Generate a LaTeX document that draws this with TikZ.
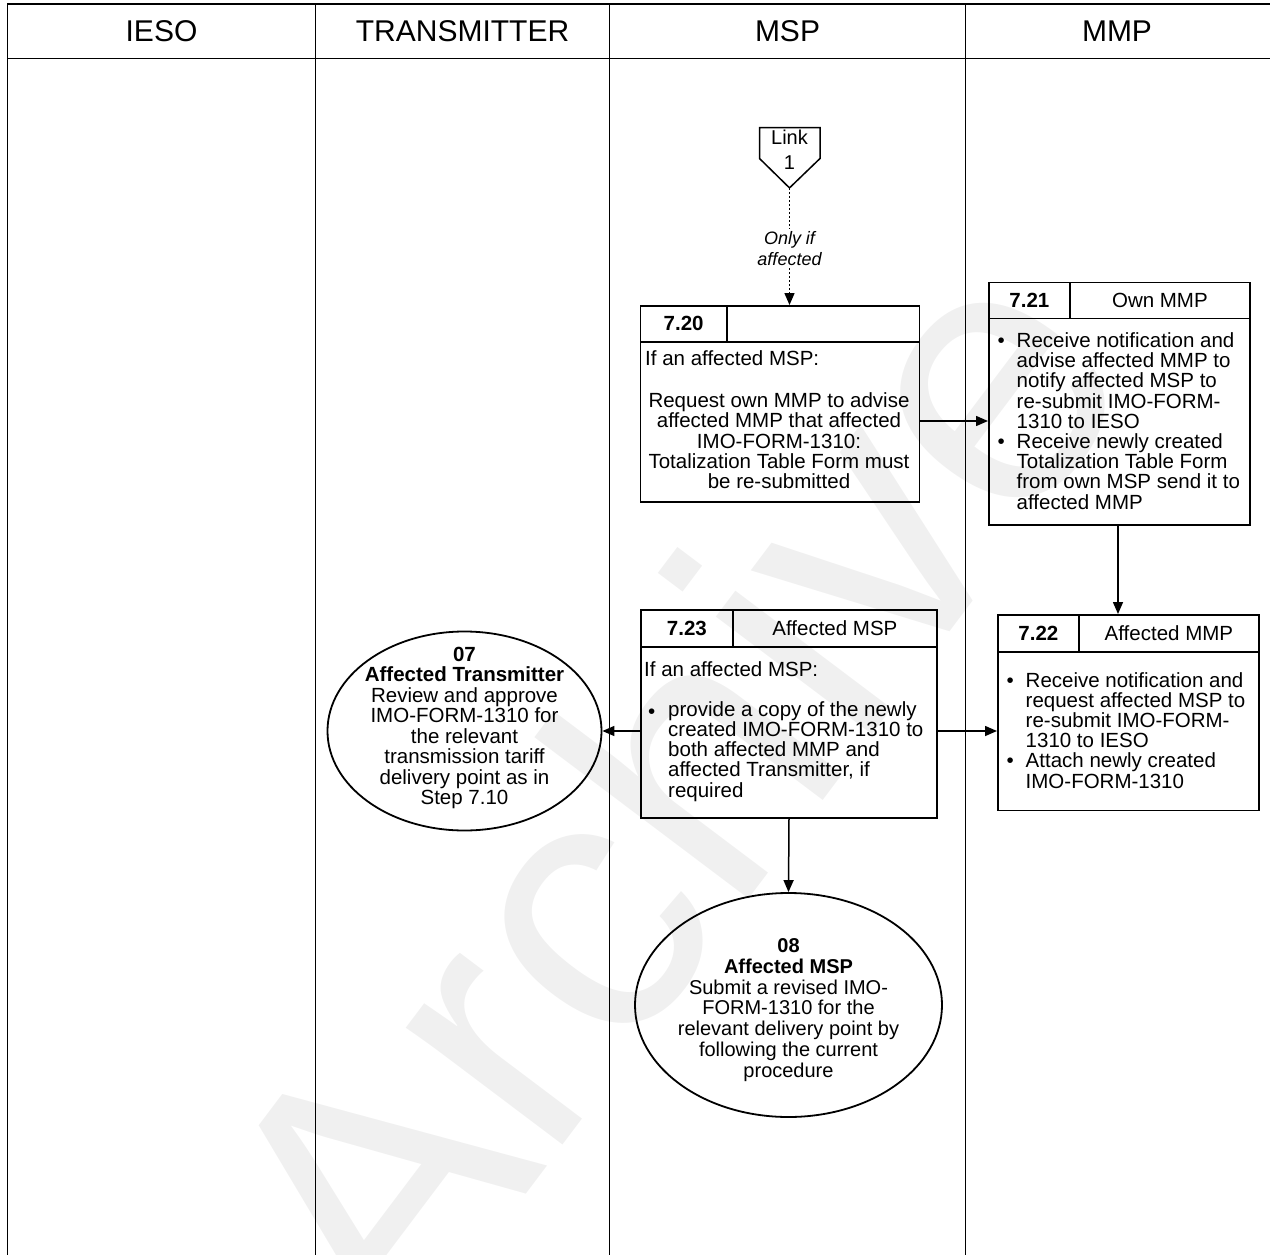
\documentclass[tikz,border=0pt]{standalone}
\usepackage{fontspec}
\setmainfont{Liberation Sans}
\usetikzlibrary{arrows.meta,shapes.geometric}
\begin{document}
\begin{tikzpicture}[x=1pt,y=-1pt,
  lane/.style={line width=1.4pt},
  box/.style={draw,line width=1.8pt,inner sep=0pt,anchor=north west},
  cell/.style={draw,line width=1.8pt,inner sep=0pt,anchor=north west,font=\fontsize{20.5}{24}\selectfont},
  body/.style={inner sep=0pt,font=\fontsize{20.5}{20.2}\selectfont},
  head/.style={inner sep=0pt,font=\fontsize{30}{36}\selectfont,anchor=base},
  arr/.style={line width=1.5pt,-{Triangle[length=12pt,width=10pt]}},
  oval/.style={draw,ellipse,line width=1.8pt,inner sep=0pt},
  dotln/.style={line width=1.5pt,dash pattern=on 2pt off 2pt},
]
\useasboundingbox (0,0) rectangle (1270,1255);
% watermark
\node[rotate=53, text=black!6, font=\fontsize{370}{370}\selectfont, inner sep=0pt] (wm) at (665,790) {Archive};
% lanes
\draw[lane] (7.5,1255) -- (7.5,4) -- (1270,4);
\draw[lane] (7.5,58.5) -- (1270,58.5);
\draw[lane] (315.5,4) -- (315.5,1255);
\draw[lane] (609.5,4) -- (609.5,1255);
\draw[lane] (965.5,4) -- (965.5,1255);
\node[head] (hIESO) at (161.5,41.7) {IESO};
\node[head] (hTR) at (462.5,41.7) {TRANSMITTER};
\node[head] (hMSP) at (787.5,41.7) {MSP};
\node[head] (hMMP) at (1117,41.7) {MMP};
% link
\node[inner sep=0pt, minimum width=60.5pt, minimum height=60pt, anchor=north] (link) at (789.5,127.5) {};
\draw[line width=1.5pt] (759.5,127.5) -- (820,127.5) -- (820,158.5) -- (link.south) -- (759.5,158.5) -- cycle;
\node[inner sep=0pt, font=\fontsize{20}{24.7}\selectfont, anchor=base, align=center] (linkt) at (789.5,169) {Link\\1};
\node[inner sep=2pt, font=\itshape\fontsize{18}{21.7}\selectfont, anchor=base, align=center] (only) at (789.5,265.7) {Only if\\affected};
% box 7.20
\node[box, minimum width=279pt, minimum height=196pt] (b720) at (639.5,305) {};
\node[cell, minimum width=86.5pt, minimum height=36pt] (n720) at (639.5,305) {\bfseries 7.20};
\node[cell, minimum width=192.5pt, minimum height=36pt] (t720) at (726,305) {};
\node[body, anchor=base west] (x720a) at (645,365) {If an affected MSP:};
\node[body, anchor=base, align=center] (x720b) at (779,488.5) {Request own MMP to advise\\affected MMP that affected\\IMO-FORM-1310:\\Totalization Table Form must\\be re-submitted};
% box 7.21
\node[box, minimum width=261pt, minimum height=242.5pt] (b721) at (988,281.5) {};
\node[cell, minimum width=81pt, minimum height=36pt] (n721) at (988,281.5) {\bfseries 7.21};
\node[cell, minimum width=180pt, minimum height=36pt] (t721) at (1069,281.5) {Own MMP};
\node[body, anchor=base west] (u721a) at (997.5,347) {\textbullet};
\node[body, anchor=base west] (u721b) at (997.5,448.5) {\textbullet};
\node[body, anchor=base west, align=left] (x721) at (1016.5,509) {Receive notification and\\advise affected MMP to\\notify affected MSP to\\re-submit IMO-FORM-\\1310 to IESO\\Receive newly created\\Totalization Table Form\\from own MSP send it to\\affected MMP};
% box 7.22
\node[box, minimum width=261pt, minimum height=195.5pt] (b722) at (997,614) {};
\node[cell, minimum width=81pt, minimum height=37pt] (n722) at (997,614) {\bfseries 7.22};
\node[cell, minimum width=180pt, minimum height=37pt] (t722) at (1078,614) {Affected MMP};
\node[body, anchor=base west] (u722a) at (1006.5,687) {\textbullet};
\node[body, anchor=base west] (u722b) at (1006.5,767.8) {\textbullet};
\node[body, anchor=base west, align=left] (x722) at (1025.5,788) {Receive notification and\\request affected MSP to\\re-submit IMO-FORM-\\1310 to IESO\\Attach newly created\\IMO-FORM-1310};
% box 7.23
\node[box, minimum width=296pt, minimum height=208pt] (b723) at (640,609) {};
\node[cell, minimum width=92pt, minimum height=37pt] (n723) at (640,609) {\bfseries 7.23};
\node[cell, minimum width=204pt, minimum height=37pt] (t723) at (732,609) {Affected MSP};
\node[body, anchor=base west] (x723a) at (644,676) {If an affected MSP:};
\node[body, anchor=base west] (u723) at (648,718.3) {\textbullet};
\node[body, anchor=base west, align=left] (x723b) at (668,797) {provide a copy of the newly\\created IMO-FORM-1310 to\\both affected MMP and\\affected Transmitter, if\\required};
% ellipses
\node[oval, minimum width=274pt, minimum height=199pt] (e07) at (464.5,731) {};
\node[inner sep=0pt, align=center, font=\fontsize{20.5}{20.5}\selectfont] (e07t) at (464.5,728) {\textbf{07}\\\textbf{Affected Transmitter}\\Review and approve\\IMO-FORM-1310 for\\the relevant\\transmission tariff\\delivery point as in\\Step 7.10};
\node[oval, minimum width=307pt, minimum height=224pt] (e08) at (788.5,1005) {};
\node[inner sep=0pt, align=center, font=\fontsize{20}{20.8}\selectfont] (e08t) at (788.5,1010) {\textbf{08}\\\textbf{Affected MSP}\\Submit a revised IMO-\\FORM-1310 for the\\relevant delivery point by\\following the current\\procedure};
% connectors
\draw[dotln] (link.south) -- (only.north);
\draw[arr, dotln] (only.south) -- (only.south |- b720.north);
\draw[arr] (b720.east |- 0,421) -- (b721.west |- 0,421);
\draw[arr] (b721.south -| 1118,0) -- (b722.north -| 1118,0);
\draw[arr] (b723.east |- 0,731) -- (b722.west |- 0,731);
\draw[arr] (b723.west |- 0,731) -- (e07.east);
\draw[arr] (b723.south -| 789,0) -- (e08.north);
\end{tikzpicture}
\end{document}
